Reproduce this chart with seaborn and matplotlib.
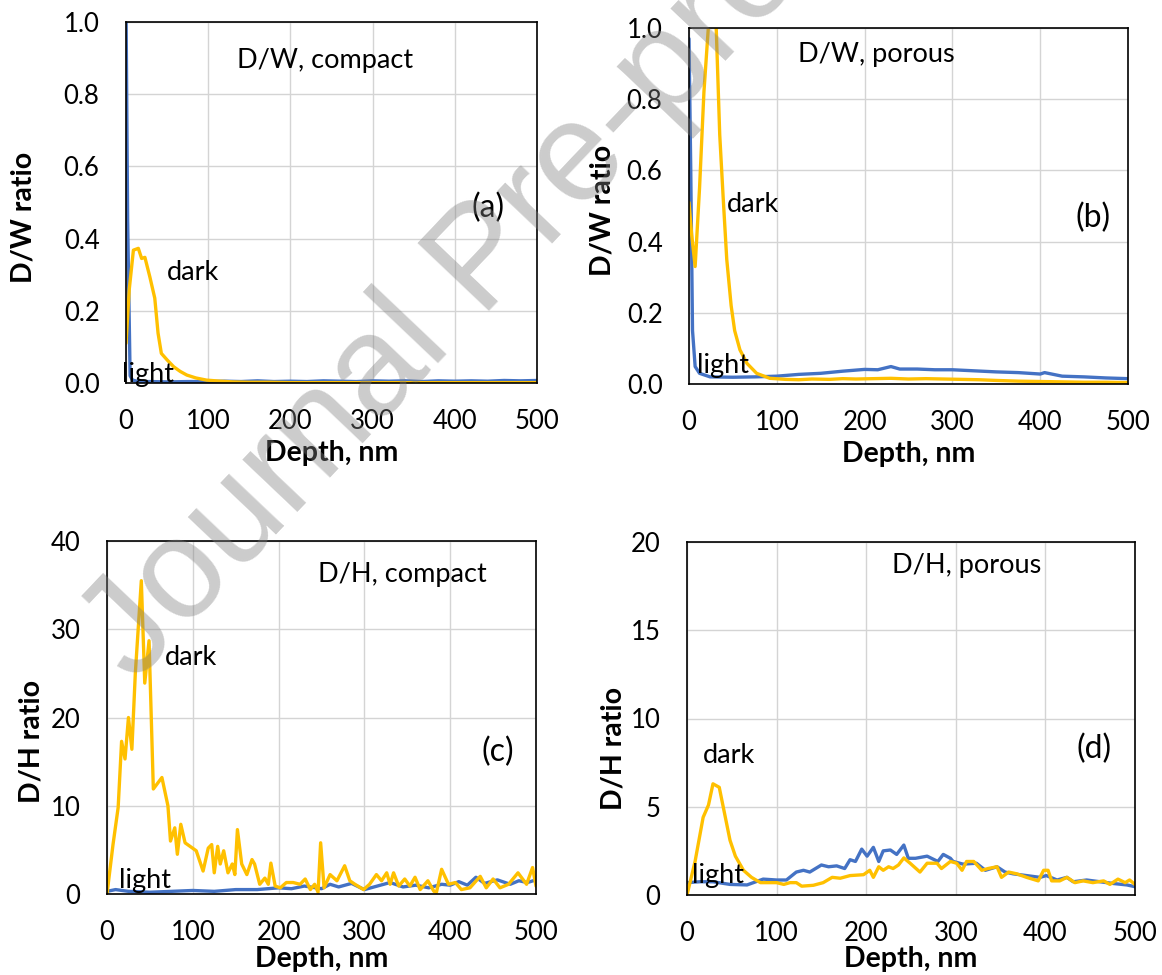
import matplotlib
matplotlib.use("Agg")
import matplotlib.pyplot as plt
import numpy as np
import pandas as pd
import seaborn as sns

# ---------------- data ----------------
# (a) D/W, compact
depth_a_light = [0, 2, 5, 8, 15, 30, 50, 75, 100, 120, 140, 160, 180, 200, 220, 240, 260, 280,
                 300, 320, 340, 360, 380, 400, 420, 440, 460, 480, 500]
ratio_a_light = [1.05, 0.45, 0.02, 0.008, 0.004, 0.004, 0.003, 0.004, 0.004, 0.005, 0.004, 0.006,
                 0.004, 0.005, 0.004, 0.006, 0.005, 0.004, 0.006, 0.005, 0.006, 0.004, 0.006,
                 0.005, 0.006, 0.005, 0.007, 0.006, 0.007]
depth_a_dark = [0, 4, 9, 15, 19, 23, 29, 35, 39, 43, 50, 58, 66, 74, 85, 98, 115, 130, 150, 175,
                200, 250, 300, 350, 400, 450, 500]
ratio_a_dark = [0.11, 0.26, 0.368, 0.373, 0.345, 0.348, 0.294, 0.235, 0.138, 0.082, 0.064, 0.045,
                0.032, 0.022, 0.014, 0.008, 0.005, 0.003, 0.002, 0.002, 0.001, 0.001, 0.001,
                0.001, 0.001, 0.001, 0.001]

# (b) D/W, porous
depth_b_light = [0, 2, 4, 7, 12, 24, 50, 75, 100, 125, 150, 175, 200, 215, 230, 240, 260, 280,
                 300, 325, 350, 375, 400, 405, 425, 450, 475, 500]
ratio_b_light = [0.97, 0.6, 0.15, 0.049, 0.03, 0.02, 0.019, 0.02, 0.022, 0.027, 0.030, 0.036,
                 0.041, 0.040, 0.049, 0.042, 0.042, 0.040, 0.040, 0.037, 0.034, 0.032, 0.028,
                 0.032, 0.022, 0.020, 0.017, 0.015]
depth_b_dark = [0, 3, 7, 12, 17, 22, 26, 31, 35, 39, 43, 48, 52, 58, 66, 77, 92, 110, 125, 140,
                160, 175, 190, 210, 230, 250, 270, 290, 310, 330, 350, 375, 400, 425, 450, 475, 500]
ratio_b_dark = [0.51, 0.42, 0.33, 0.55, 0.82, 1.0, 1.12, 1.0, 0.70, 0.52, 0.35, 0.22, 0.15, 0.096,
                0.058, 0.03, 0.016, 0.013, 0.012, 0.014, 0.013, 0.015, 0.014, 0.015, 0.016,
                0.014, 0.015, 0.014, 0.013, 0.012, 0.010, 0.008, 0.007, 0.006, 0.005, 0.005, 0.004]

# (c) D/H, compact
depth_c_light = [0, 10, 25, 50, 75, 100, 125, 150, 175, 200, 215, 230, 250, 260, 270, 285, 300,
                 315, 330, 345, 360, 375, 390, 400, 410, 420, 430, 440, 455, 470, 480, 490, 500]
ratio_c_light = [0.3, 0.5, 0.3, 0.2, 0.3, 0.4, 0.3, 0.5, 0.5, 0.7, 0.6, 0.9, 0.6, 1.1, 0.8, 1.2,
                 0.5, 0.9, 1.3, 0.8, 1.0, 0.7, 1.1, 1.0, 1.4, 1.0, 1.9, 1.2, 1.6, 1.1, 1.5, 1.3, 1.6]
depth_c_dark = [0, 7, 13, 17, 21, 25, 29, 33, 40, 44, 49, 54, 64, 71, 74, 79, 82, 86, 91, 104,
                112, 118, 122, 125, 129, 132, 136, 141, 146, 149, 152, 157, 163, 169, 172, 178,
                184, 188, 191, 196, 202, 209, 217, 225, 231, 237, 242, 246, 249, 253, 260, 268,
                277, 283, 289, 299, 306, 314, 320, 326, 330, 334, 340, 347, 353, 359, 365, 374,
                381, 384, 390, 398, 406, 413, 423, 435, 442, 450, 458, 468, 479, 489, 496, 500]
ratio_c_dark = [0.0, 5.6, 9.8, 17.3, 15.3, 20.0, 16.4, 25.0, 35.5, 23.9, 28.7, 11.9, 13.2, 10.0,
                6.0, 7.5, 4.5, 7.9, 5.8, 4.9, 2.6, 5.2, 5.6, 2.4, 5.4, 3.4, 4.9, 2.4, 3.4, 2.2,
                7.3, 3.4, 2.2, 3.9, 3.4, 1.1, 1.8, 1.1, 3.5, 0.9, 0.7, 1.3, 1.3, 1.1, 1.7, 0.5,
                1.1, 0.2, 5.8, 0.7, 2.2, 1.5, 3.2, 1.5, 1.1, 0.5, 1.1, 2.2, 1.5, 2.4, 1.1, 2.4,
                0.9, 1.7, 0.9, 1.9, 0.5, 1.5, 0.3, 0.2, 2.8, 1.1, 1.3, 0.5, 0.7, 2.0, 0.7, 1.7,
                0.7, 1.1, 2.4, 1.1, 3.0, 0.9]

# (d) D/H, porous
depth_d_light = [0, 14, 29, 48, 67, 85, 100, 111, 122, 130, 137, 150, 158, 167, 176, 182, 188,
                 195, 201, 208, 214, 219, 227, 234, 242, 247, 255, 268, 280, 286, 294, 297, 308,
                 323, 333, 346, 355, 364, 379, 394, 401, 413, 424, 431, 446, 461, 476, 491, 500]
ratio_d_light = [0.7, 0.75, 0.75, 0.6, 0.57, 0.9, 0.85, 0.85, 1.3, 1.4, 1.3, 1.7, 1.6, 1.65, 1.5,
                 2.0, 1.9, 2.6, 2.2, 2.7, 1.9, 2.5, 2.55, 2.3, 2.83, 2.08, 2.08, 2.2, 1.9, 2.3,
                 2.08, 1.9, 1.75, 1.8, 1.4, 1.6, 1.3, 1.2, 1.1, 1.0, 1.1, 0.85, 1.0, 0.75, 0.85,
                 0.75, 0.65, 0.57, 0.47]
depth_d_dark = [0, 9, 18, 24, 29, 36, 42, 48, 54, 63, 72, 82, 100, 108, 115, 122, 128, 141, 152,
                162, 171, 182, 197, 204, 208, 214, 219, 225, 230, 236, 242, 249, 260, 268, 279,
                284, 294, 301, 307, 312, 320, 329, 336, 346, 351, 359, 368, 379, 392, 398, 403,
                407, 416, 424, 433, 442, 453, 465, 472, 481, 489, 494, 500]
ratio_d_dark = [0.0, 1.9, 4.4, 5.1, 6.3, 6.1, 4.6, 3.1, 2.2, 1.4, 1.0, 0.7, 0.7, 0.6, 0.7, 0.7,
                0.5, 0.55, 0.7, 1.0, 0.95, 1.1, 1.15, 1.4, 1.0, 1.6, 1.4, 1.6, 1.5, 1.7, 2.1,
                1.8, 1.3, 1.8, 1.8, 1.5, 1.9, 1.8, 1.4, 1.9, 1.9, 1.4, 1.5, 1.6, 1.0, 1.3, 1.2,
                1.0, 0.8, 1.4, 1.4, 0.8, 0.8, 1.0, 0.7, 0.8, 0.7, 0.8, 0.6, 0.9, 0.7, 0.85, 0.6]

sample_names = ["light", "dark"]
panel_titles = ["D/W, compact", "D/W, porous", "D/H, compact", "D/H, porous"]
panel_tags = ["(a)", "(b)", "(c)", "(d)"]
y_labels = ["D/W ratio", "D/W ratio", "D/H ratio", "D/H ratio"]
x_label = "Depth, nm"
x_ticks = [0, 100, 200, 300, 400, 500]
y_ticks_ab = [0.0, 0.2, 0.4, 0.6, 0.8, 1.0]
y_ticks_c = [0, 10, 20, 30, 40]
y_ticks_d = [0, 5, 10, 15, 20]
watermark = "Journal Pre-proof"

# ---------------- style ----------------
sns.set_theme(style="white")
plt.rcParams["font.family"] = ["Lato", "DejaVu Sans"]
plt.rcParams["text.color"] = "black"
plt.rcParams["axes.labelcolor"] = "black"

BLUE = "#4472C4"
GOLD = "#FFC000"
W, H = 1162, 975

fig = plt.figure(figsize=(W / 100, H / 100), dpi=100)
fig.patch.set_facecolor("white")


def axes_px(left, right, top, bottom):
    return fig.add_axes([left / W, 1 - bottom / H, (right - left) / W, (bottom - top) / H])


panels = [
    dict(box=(126, 537, 22, 383), light=(depth_a_light, ratio_a_light), dark=(depth_a_dark, ratio_a_dark),
         yticks=y_ticks_ab, fmt="{:.1f}", xlab_off=78,
         title_xy=(135, 0.872), tag_xy=(420, 0.46), dark_xy=(49.5, 0.285), light_xy=(-5.2, 0.004),
         ylab_xy=(-0.25, 0.46)),
    dict(box=(689, 1128, 28, 384), light=(depth_b_light, ratio_b_light), dark=(depth_b_dark, ratio_b_dark),
         yticks=y_ticks_ab, fmt="{:.1f}", xlab_off=78,
         title_xy=(124.5, 0.905), tag_xy=(440, 0.44), dark_xy=(43, 0.484), light_xy=(8.8, 0.030),
         ylab_xy=(-0.197, 0.489)),
    dict(box=(107, 536, 541, 894), light=(depth_c_light, ratio_c_light), dark=(depth_c_dark, ratio_c_dark),
         yticks=y_ticks_c, fmt="{:d}", xlab_off=73,
         title_xy=(246, 35.3), tag_xy=(436.7, 15.1), dark_xy=(67.6, 26.0), light_xy=(14.3, 0.7),
         ylab_xy=(-0.175, 0.431)),
    dict(box=(687, 1135, 542, 895), light=(depth_d_light, ratio_d_light), dark=(depth_d_dark, ratio_d_dark),
         yticks=y_ticks_d, fmt="{:d}", xlab_off=72,
         title_xy=(228.5, 18.26), tag_xy=(435, 7.75), dark_xy=(17.5, 7.46), light_xy=(5.2, 0.66),
         ylab_xy=(-0.165, 0.416)),
]

TICK_FS = 18.5
ANN_FS = 19.5
TAG_FS = 23
LAB_FS = 20.5

for i, p in enumerate(panels):
    ax = axes_px(*p["box"])
    frames = []
    for name in sample_names:
        d, r = p[name]
        frames.append(pd.DataFrame({"depth": d, "ratio": r, "sample": name}))
    df = pd.concat(frames, ignore_index=True)
    sns.lineplot(data=df, x="depth", y="ratio", hue="sample", hue_order=sample_names,
                 palette={"light": BLUE, "dark": GOLD}, estimator=None, sort=False,
                 linewidth=2.4, legend=False, ax=ax)

    ax.set_xlim(0, 500)
    ax.set_ylim(p["yticks"][0], p["yticks"][-1])
    ax.set_xticks(x_ticks)
    ax.set_xticklabels([str(t) for t in x_ticks])
    ax.set_yticks(p["yticks"])
    ax.set_yticklabels([p["fmt"].format(t) for t in p["yticks"]])
    ax.grid(True, color="#D4D4D4", linewidth=1.0)
    ax.set_axisbelow(True)
    for s in ax.spines.values():
        s.set_color("black")
        s.set_linewidth(1.2)
    ax.tick_params(axis="both", length=0, labelsize=TICK_FS, colors="black")
    ax.tick_params(axis="y", pad=19)
    ax.tick_params(axis="x", pad=19)

    ax.set_xlabel(x_label, fontsize=LAB_FS, fontweight="bold", color="black")
    ax.xaxis.label.set_va("baseline")
    ax.xaxis.set_label_coords(0.5, -p["xlab_off"] / (p["box"][3] - p["box"][2]))
    ax.set_ylabel(y_labels[i], fontsize=LAB_FS, fontweight="bold", color="black")
    ax.yaxis.label.set_va("center")
    ax.yaxis.set_label_coords(*p["ylab_xy"])

    ax.text(*p["title_xy"], panel_titles[i], fontsize=ANN_FS, ha="left", va="baseline", color="black")
    ax.text(*p["tag_xy"], panel_tags[i], fontsize=TAG_FS, ha="left", va="baseline", color="black")
    ax.text(*p["dark_xy"], "dark", fontsize=ANN_FS, ha="left", va="baseline", color="black")
    ax.text(*p["light_xy"], "light", fontsize=ANN_FS, ha="left", va="baseline", color="black")

# watermark (semi-transparent, drawn over the panels)
fig.text(484 / W, 1 - 262 / H, watermark, fontsize=102, family=["Liberation Sans", "DejaVu Sans"],
         color="#808080", alpha=0.4, rotation=46.5, rotation_mode="anchor",
         ha="center", va="center", zorder=10)

fig.savefig("out.png", dpi=100)
